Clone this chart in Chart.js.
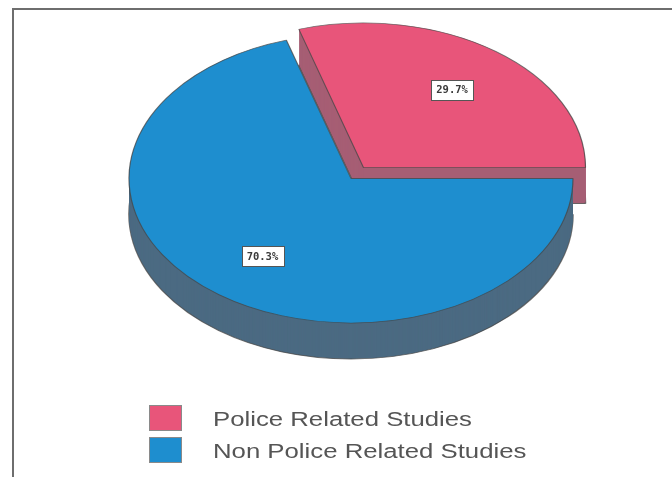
<!DOCTYPE html>
<html>
<head>
<meta charset="utf-8">
<title>Police Related Studies</title>
<script src="https://cdn.jsdelivr.net/npm/chart.js@4/dist/chart.umd.min.js"></script>
<style>
  html, body { margin: 0; padding: 0; background: #fff; }
  #wrap { width: 672px; height: 477px; position: relative; }
</style>
</head>
<body>
<div id="wrap"><canvas id="chart" width="672" height="477"></canvas></div>
<script>
// Study categories and their share of the total (percent)
const CATEGORIES = ['Police Related Studies', 'Non Police Related Studies'];
const SHARES = [29.7, 70.3];

// Styling
const TOP_COLORS = ['#E8557A', '#1E8ECF'];
const SIDE_COLORS = ['#A65E74', '#4B6A82'];
const EDGE_COLOR = 'rgba(70,70,70,0.75)';
const EXPLODE = [21, 0];     // how far each slice is pulled out (px)
const RADIUS = 222;          // pie radius (px)
const TILT = 0.651;          // vertical squash of the tilted disc
const DEPTH = 36;            // thickness of the disc (px)

// Draws one arc element with a few options swapped in
function drawArcWith(arc, ctx, overrides) {
  const saved = arc.options;
  arc.options = Object.assign({}, saved, overrides, { offset: 0 });
  arc.draw(ctx);
  arc.options = saved;
}

// Renders the pie as a tilted, extruded disc with the exploded first slice
const pie3d = {
  id: 'pie3d',
  beforeDatasetsDraw(chart) {
    const ctx = chart.ctx;
    const arcs = chart.getDatasetMeta(0).data;
    const cy = arcs[0].y;
    arcs.forEach((arc, i) => {
      const mid = (arc.startAngle + arc.endAngle) / 2;
      const ex = Math.cos(mid) * EXPLODE[i];
      const ey = Math.sin(mid) * EXPLODE[i];
      const place = (dy) => {
        ctx.translate(0, dy);
        ctx.translate(0, cy);
        ctx.scale(1, TILT);
        ctx.translate(0, -cy);
        ctx.translate(ex, ey);
      };
      // side wall, built from the bottom up
      for (let d = DEPTH; d >= 1; d--) {
        ctx.save();
        place(d);
        drawArcWith(arc, ctx, {
          backgroundColor: SIDE_COLORS[i],
          borderColor: EDGE_COLOR,
          borderWidth: d === DEPTH ? 1.6 : 0
        });
        ctx.restore();
      }
      // top face
      ctx.save();
      place(0);
      drawArcWith(arc, ctx, {});
      ctx.restore();
    });
    return false;
  },
  afterDraw(chart) {
    const ctx = chart.ctx;
    const arcs = chart.getDatasetMeta(0).data;
    const values = chart.data.datasets[0].data;
    const total = values.reduce((a, b) => a + b, 0);
    const cy = arcs[0].y;

    // percentage tags on the slices
    ctx.save();
    ctx.font = 'bold 10.5px "DejaVu Sans Mono", monospace';
    ctx.textAlign = 'center';
    ctx.textBaseline = 'middle';
    arcs.forEach((arc, i) => {
      const mid = (arc.startAngle + arc.endAngle) / 2;
      const r = EXPLODE[i] + arc.outerRadius * 0.67;
      const x = arc.x + Math.cos(mid) * r;
      const y = cy + Math.sin(mid) * r * TILT;
      const text = (values[i] / total * 100).toFixed(1) + '%';
      const w = ctx.measureText(text).width + 10;
      const h = 20;
      ctx.fillStyle = '#fff';
      ctx.fillRect(Math.round(x - w / 2) + 0.5, Math.round(y - h / 2) + 0.5, Math.round(w), h);
      ctx.strokeStyle = '#555';
      ctx.lineWidth = 1;
      ctx.strokeRect(Math.round(x - w / 2) + 0.5, Math.round(y - h / 2) + 0.5, Math.round(w), h);
      ctx.fillStyle = '#3a3a3a';
      ctx.fillText(text, x, y + 0.5);
    });
    ctx.restore();

    // legend
    ctx.save();
    const boxes = [[149, 405, 33, 26], [149, 437, 33, 26]];
    const baselines = [426, 458];
    chart.data.labels.forEach((label, i) => {
      const [bx, by, bw, bh] = boxes[i];
      ctx.fillStyle = TOP_COLORS[i];
      ctx.fillRect(bx, by, bw, bh);
      ctx.strokeStyle = '#8a8a8a';
      ctx.lineWidth = 1;
      ctx.strokeRect(bx + 0.5, by + 0.5, bw - 1, bh - 1);
      ctx.save();
      ctx.translate(213, baselines[i]);
      ctx.scale(1.32, 1);
      ctx.font = '19.5px "Liberation Sans", Arial, sans-serif';
      ctx.fillStyle = '#555';
      ctx.textBaseline = 'alphabetic';
      ctx.textAlign = 'left';
      ctx.fillText(label, 0, 0);
      ctx.restore();
    });
    ctx.restore();
  },
  beforeDraw(chart) {
    // page frame along the top and left
    const ctx = chart.ctx;
    ctx.save();
    ctx.fillStyle = '#fff';
    ctx.fillRect(0, 0, chart.width, chart.height);
    ctx.strokeStyle = '#6e6e6e';
    ctx.lineWidth = 2;
    ctx.beginPath();
    ctx.moveTo(13, 477);
    ctx.lineTo(13, 9);
    ctx.lineTo(672, 9);
    ctx.stroke();
    ctx.restore();
  }
};

const firstShare = SHARES[0] / SHARES.reduce((a, b) => a + b, 0);

new Chart(document.getElementById('chart'), {
  type: 'pie',
  data: {
    labels: CATEGORIES,
    datasets: [{
      data: SHARES,
      backgroundColor: TOP_COLORS,
      borderColor: EDGE_COLOR,
      borderWidth: 1.2
    }]
  },
  options: {
    responsive: false,
    animation: false,
    radius: RADIUS,
    // first slice ends at three o'clock
    rotation: 90 - firstShare * 360,
    layout: { padding: { left: 30, right: 0, top: 0, bottom: 120 } },
    plugins: {
      legend: { display: false },
      tooltip: { enabled: false }
    }
  },
  plugins: [pie3d]
});
</script>
</body>
</html>
